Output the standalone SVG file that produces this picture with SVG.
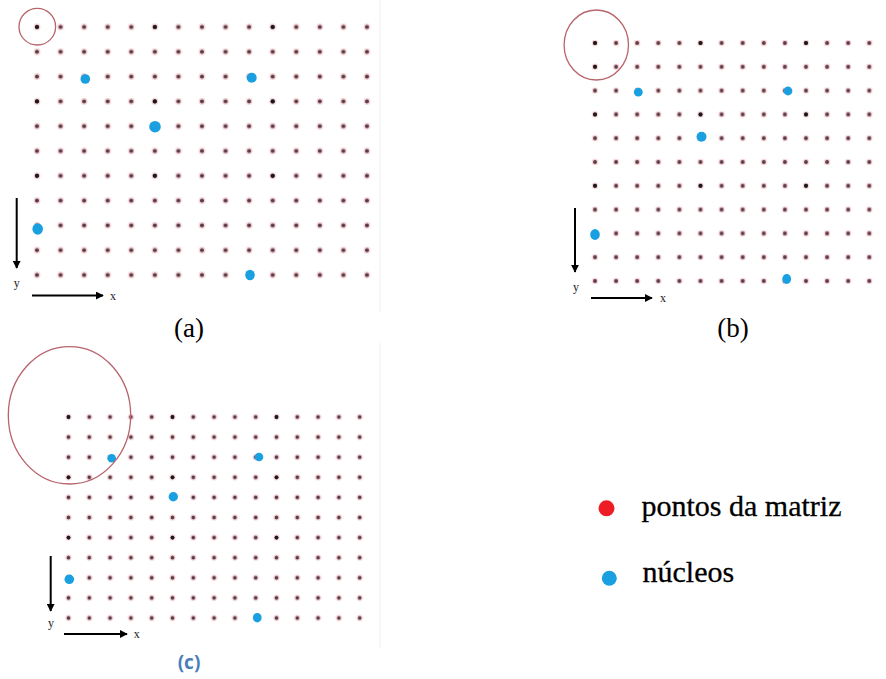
<svg xmlns="http://www.w3.org/2000/svg" width="886" height="679" viewBox="0 0 886 679">
  <style>
    .ring { fill: none; stroke: #b8646b; stroke-width: 1.3; }
    .nuc { fill: #1aa0e0; }
    .blk { fill: #1a1a1a; }
    .axis { stroke: #000; stroke-width: 2; fill: none; }
    .ax { font-family: "Liberation Serif", serif; font-size: 12px; fill: #222; }
    .cap { font-family: "Liberation Serif", serif; font-size: 27px; fill: #000; }
    .leg { font-family: "Liberation Serif", serif; font-size: 30px; fill: #000; stroke: #000; stroke-width: 0.3; }
    .edge { stroke: #efefef; stroke-width: 1; }
  </style>
  <defs>
    <marker id="ah" viewBox="0 0 10 10" refX="9" refY="5" markerWidth="4" markerHeight="4" orient="auto" markerUnits="strokeWidth">
      <path d="M0,0 L10,5 L0,10 z" fill="#000"/>
    </marker>
    <pattern id="pa" patternUnits="userSpaceOnUse" x="25.215" y="14.6" width="23.57" height="24.8">
      <circle cx="11.785" cy="12.4" r="3.4" fill="#eaa1a9" opacity="0.45"/>
      <circle cx="11.785" cy="12.4" r="2" fill="#5b3b45"/>
    </pattern>
    <pattern id="pb" patternUnits="userSpaceOnUse" x="584.45" y="31.1" width="21.1" height="23.8">
      <circle cx="10.55" cy="11.9" r="3.2" fill="#eaa1a9" opacity="0.45"/>
      <circle cx="10.55" cy="11.9" r="1.9" fill="#5b3b45"/>
    </pattern>
    <pattern id="pc" patternUnits="userSpaceOnUse" x="58.1" y="406.95" width="20.8" height="20.1">
      <circle cx="10.4" cy="10.05" r="3.1" fill="#eaa1a9" opacity="0.45"/>
      <circle cx="10.4" cy="10.05" r="1.8" fill="#5b3b45"/>
    </pattern>
  </defs>

  <rect width="886" height="679" fill="#fff"/>

  <!-- faint image edges -->
  <line class="edge" x1="380" y1="0" x2="380" y2="312"/>
  <line class="edge" x1="380" y1="343" x2="380" y2="648"/>

  <!-- Panel (a) -->
  <g id="panel-a">
    <rect x="25.215" y="14.6" width="353.55" height="272.8" fill="url(#pa)"/>
    <g class="blk">
      <circle cx="37" cy="27" r="2.1"/><circle cx="154.85" cy="27" r="2.1"/><circle cx="272.7" cy="27" r="2.1"/>
      <circle cx="37" cy="101.4" r="2.1"/><circle cx="154.85" cy="101.4" r="2.1"/><circle cx="272.7" cy="101.4" r="2.1"/>
      <circle cx="37" cy="175.8" r="2.1"/><circle cx="154.85" cy="175.8" r="2.1"/><circle cx="272.7" cy="175.8" r="2.1"/>
    </g>
    <g class="nuc">
      <circle cx="85.3" cy="79" r="4.8"/>
      <circle cx="251.7" cy="77.7" r="5"/>
      <circle cx="155" cy="126.7" r="5.8"/>
      <ellipse cx="37.7" cy="229" rx="5.3" ry="5.7"/>
      <ellipse cx="250" cy="275" rx="4.8" ry="5.2"/>
    </g>
    <circle class="ring" cx="37.3" cy="26.7" r="18.3"/>
    <text class="cap" x="189" y="337" text-anchor="middle">(a)</text>
  </g>

  <!-- Panel (b) -->
  <g id="panel-b">
    <rect x="584.45" y="31.1" width="295.4" height="261.8" fill="url(#pb)"/>
    <g class="blk">
      <circle cx="595" cy="43" r="2"/><circle cx="700.5" cy="43" r="2"/><circle cx="806" cy="43" r="2"/>
      <circle cx="595" cy="66.8" r="2"/>
      <circle cx="595" cy="114.4" r="2"/><circle cx="700.5" cy="114.4" r="2"/><circle cx="806" cy="114.4" r="2"/>
      <circle cx="595" cy="185.8" r="2"/><circle cx="700.5" cy="185.8" r="2"/><circle cx="806" cy="185.8" r="2"/>
    </g>
    <g class="nuc">
      <circle cx="638.3" cy="92.2" r="4.4"/>
      <circle cx="788" cy="91" r="4.4"/>
      <circle cx="701.5" cy="136.7" r="5"/>
      <ellipse cx="595" cy="234.5" rx="4.8" ry="5.4"/>
      <ellipse cx="786.7" cy="279" rx="4.4" ry="5"/>
    </g>
    <ellipse class="ring" cx="596.3" cy="45" rx="32.2" ry="35"/>
    <text class="cap" x="733" y="337" text-anchor="middle">(b)</text>
  </g>

  <!-- Panel (c) -->
  <g id="panel-c">
    <rect x="58.1" y="406.95" width="312" height="221.1" fill="url(#pc)"/>
    <g class="blk">
      <circle cx="68.5" cy="417" r="1.9"/><circle cx="172.5" cy="417" r="1.9"/><circle cx="276.5" cy="417" r="1.9"/>
      <circle cx="68.5" cy="477.3" r="1.9"/><circle cx="172.5" cy="477.3" r="1.9"/><circle cx="276.5" cy="477.3" r="1.9"/>
      <circle cx="68.5" cy="537.6" r="1.9"/><circle cx="172.5" cy="537.6" r="1.9"/><circle cx="276.5" cy="537.6" r="1.9"/>
    </g>
    <g class="nuc">
      <circle cx="111.7" cy="458.3" r="4.3"/>
      <circle cx="259" cy="457" r="4.3"/>
      <circle cx="173.3" cy="496.7" r="4.7"/>
      <circle cx="69.3" cy="579.3" r="4.8"/>
      <ellipse cx="257.3" cy="617.7" rx="4.3" ry="4.8"/>
    </g>
    <ellipse class="ring" cx="69.5" cy="415.3" rx="61.2" ry="68.7"/>
    <text x="189" y="669" text-anchor="middle" font-family="'Open Sans', 'Liberation Sans', sans-serif" font-weight="bold" font-size="19" fill="#4a7ebb">(c)</text>
  </g>

  <!-- Axes -->
  <g id="axes">
    <line class="axis" x1="16.7" y1="198" x2="16.7" y2="268" marker-end="url(#ah)"/>
    <line class="axis" x1="32" y1="295.5" x2="103" y2="295.5" marker-end="url(#ah)"/>
    <text class="ax" x="16.7" y="287" text-anchor="middle">y</text>
    <text class="ax" x="113" y="300" text-anchor="middle">x</text>

    <line class="axis" x1="575" y1="208" x2="575" y2="272" marker-end="url(#ah)"/>
    <line class="axis" x1="591" y1="298" x2="652" y2="298" marker-end="url(#ah)"/>
    <text class="ax" x="576" y="291" text-anchor="middle">y</text>
    <text class="ax" x="663" y="302" text-anchor="middle">x</text>

    <line class="axis" x1="50.7" y1="556" x2="50.7" y2="611" marker-end="url(#ah)"/>
    <line class="axis" x1="64" y1="634" x2="127" y2="634" marker-end="url(#ah)"/>
    <text class="ax" x="51" y="627" text-anchor="middle" font-size="11">y</text>
    <text class="ax" x="136.7" y="638" text-anchor="middle" font-size="11">x</text>
  </g>

  <!-- Legend -->
  <g id="legend">
    <circle cx="606.5" cy="508.3" r="8" fill="#ee1c25"/>
    <text class="leg" x="641.5" y="516">pontos da matriz</text>
    <circle cx="609.3" cy="578.3" r="7.5" fill="#1aa0e0"/>
    <text class="leg" x="642.5" y="582">núcleos</text>
  </g>
</svg>
